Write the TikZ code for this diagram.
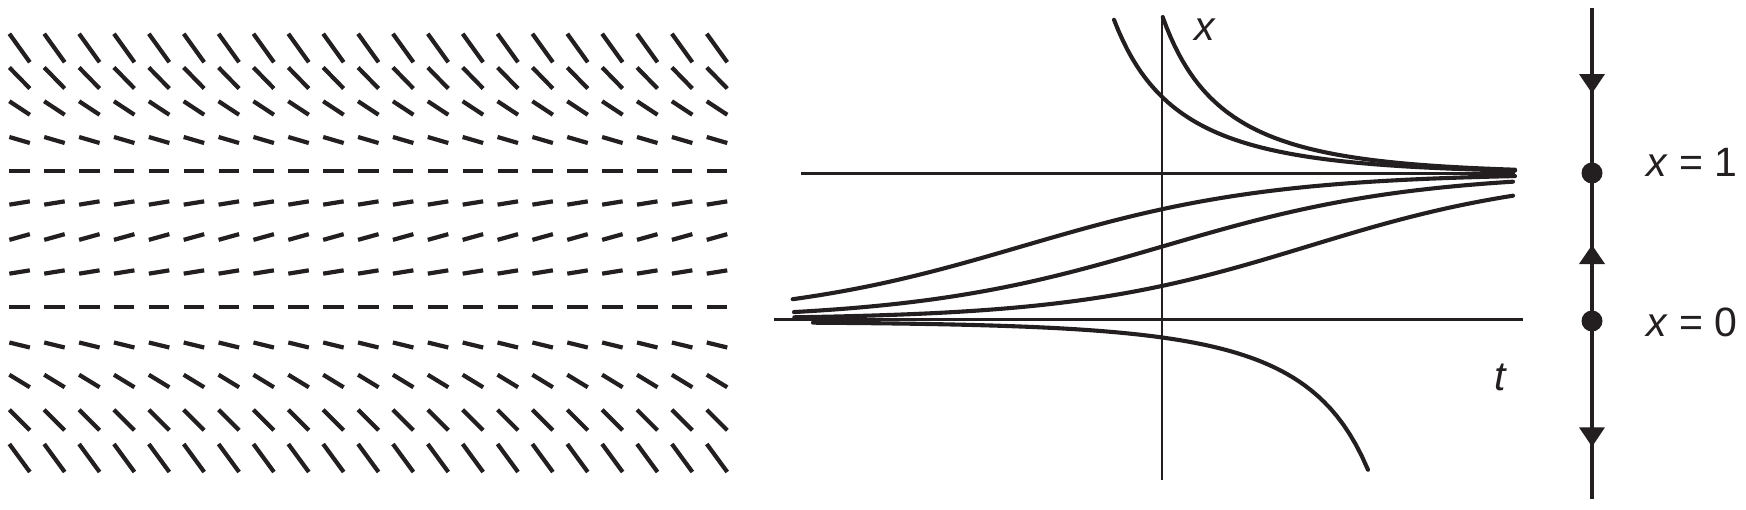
\documentclass[tikz,border=0pt]{standalone}
\usepackage{fontspec}
\setmainfont{Liberation Sans}
\definecolor{ink}{HTML}{231F20}
\tikzset{
  seg/.style={draw=ink, line width=2.1pt},
  curve/.style={draw=ink, line width=2.05pt, line cap=round},
  axis/.style={draw=ink, line width=1.2pt},
  phase/.style={draw=ink, line width=1.6pt},
  dot/.style={circle, fill=ink, inner sep=0pt, minimum size=10.5pt},
  lab/.style={inner sep=0pt, anchor=base west, text=ink, font=\fontsize{20.5pt}{24pt}\selectfont}
}
\begin{document}
\begin{tikzpicture}[x=0.5pt,y=-0.5pt]
\useasboundingbox (0,0) rectangle (1746,509);
% slope field
\foreach \yy/\dd in {48/28.5, 78/21, 108/13.5, 140/6, 171/0, 203/-3.3, 237/-5.7, 272/-3.3, 307/0, 345/5, 381/12.5, 420/20.5, 458/28}{
  \foreach \i in {0,...,20}{
    \draw[seg] ({19.6+34.87*\i-10.25},{\yy-\dd/2}) -- ({19.6+34.87*\i+10.25},{\yy+\dd/2});
  }
}
% axes of middle panel
\coordinate (vtop) at (1161.7,16.7);
\coordinate (vbot) at (1161.7,480);
\coordinate (oneL) at (801,173.3);
\coordinate (oneR) at (1515,173.3);
\coordinate (tL) at (774,319.3);
\coordinate (tR) at (1522.7,319.3);
\draw[axis, line width=1.05pt] (vtop) -- (vbot);
\draw[axis] (oneL) -- (oneR);
\draw[axis, line width=1.4pt] (tL) -- (tR);
\node[lab] (xlab) at (1194,40) {\textit{x}};
\node[lab] (tlab) at (1494,390) {\textit{t}};
% solution curves (logistic x' = x(1-x))
% above x = 1
\draw[curve] plot[domain=1114:1515, samples=90, variable=\X] ({\X},{319.3-146/(1-exp(-(\X-1033.8)/120))});
\draw[curve] plot[domain=1162.7:1515, samples=90, variable=\X] ({\X},{319.3-146/(1-exp(-(\X-1086.8)/115))});
% between 0 and 1
\draw[curve] plot[domain=792.7:1515, samples=90, variable=\X] ({\X},{319.3-146/(1+exp(-(\X-1022)/125))});
\draw[curve] plot[domain=794:1513, samples=90, variable=\X] ({\X},{319.3-146/(1+exp(-(\X-1163)/125))});
\draw[curve] plot[domain=794.3:1513, samples=90, variable=\X] ({\X},{319.3-146/(1+exp(-(\X-1308)/120))});
% below 0
\draw[curve] plot[domain=813:1368, samples=90, variable=\X] ({\X},{321.8+146*exp((\X-1453.8)/125)/(1-exp((\X-1453.8)/125))});
% phase line
\coordinate (ptop) at (1592,8.3);
\coordinate (pbot) at (1592,499);
\draw[phase] (ptop) -- (pbot);
\fill[ink] (1579,74) -- (1605,74) -- (1592,93.3) -- cycle;
\fill[ink] (1579,264) -- (1605,264) -- (1592,245) -- cycle;
\fill[ink] (1579,427.3) -- (1605,427.3) -- (1592,446.7) -- cycle;
\node[dot] (p1) at (1592,173) {};
\node[dot] (p0) at (1592,321) {};
\node[lab] (l1) at (1646,176.5) {\textit{x} = 1};
\node[lab] (l0) at (1646,336.5) {\textit{x} = 0};
\end{tikzpicture}
\end{document}
